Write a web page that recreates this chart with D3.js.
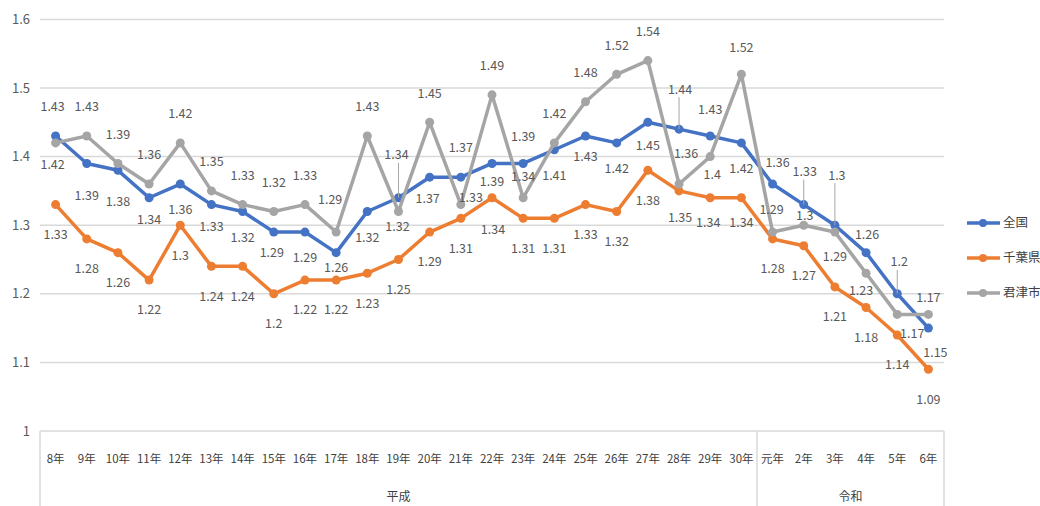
<!DOCTYPE html>
<html>
<head>
<meta charset="utf-8">
<script src="https://cdn.jsdelivr.net/npm/d3@7"></script>
<style>
  body { margin: 0; background: #fff; }
  svg text { font-family: "Noto Sans CJK JP", "Noto Sans", sans-serif; }
</style>
</head>
<body>
<div id="chart"></div>
<script>
// data
var heiseiYears = ["8年","9年","10年","11年","12年","13年","14年","15年","16年","17年","18年","19年",
  "20年","21年","22年","23年","24年","25年","26年","27年","28年","29年","30年"];
var reiwaYears = ["元年","2年","3年","4年","5年","6年"];
var eras = ["平成", "令和"];
var categories = heiseiYears.map(function(y){ return "平成" + y; })
  .concat(reiwaYears.map(function(y){ return "令和" + y; }));

var zenkoku = [1.43,1.39,1.38,1.34,1.36,1.33,1.32,1.29,1.29,1.26,1.32,1.34,1.37,1.37,1.39,1.39,1.41,1.43,1.42,1.45,1.44,1.43,1.42,
  1.36,1.33,1.30,1.26,1.20,1.15];
var chiba = [1.33,1.28,1.26,1.22,1.30,1.24,1.24,1.20,1.22,1.22,1.23,1.25,1.29,1.31,1.34,1.31,1.31,1.33,1.32,1.38,1.35,1.34,1.34,
  1.28,1.27,1.21,1.18,1.14,1.09];
var kimitsu = [1.42,1.43,1.39,1.36,1.42,1.35,1.33,1.32,1.33,1.29,1.43,1.32,1.45,1.33,1.49,1.34,1.42,1.48,1.52,1.54,1.36,1.40,1.52,
  1.29,1.30,1.29,1.23,1.17,1.17];
var yTicks = [1, 1.1, 1.2, 1.3, 1.4, 1.5, 1.6];

var series = [
  {name: "全国", values: zenkoku, color: "#4472c4", dy: 26},
  {name: "千葉県", values: chiba, color: "#ed7d31", dy: 30},
  {name: "君津市", values: kimitsu, color: "#a5a5a5", dy: -29}
];

// label nudges (index: [dx, dy, leader])
var nudge = {
  "全国": {0:[-3,-29],1:[0,32],2:[0,31],3:[0,22],5:[0,22],7:[-2,21],9:[0,15],11:[-2,-43,1],12:[-2,21],13:[0,-30],
    14:[0,18],15:[0,-27],17:[0,21],19:[0,23],20:[1,-40,1],21:[0,-26],23:[5,-21],24:[1,-33,1],25:[2,-50,1],
    26:[1,-18],27:[2,-32,1],28:[7,25]},
  "千葉県": {14:[1,32],20:[1,27],21:[-2,25],22:[0,25]},
  "君津市": {0:[-3,22],9:[-6,-32],11:[-1,15],13:[10,-7],15:[0,-21],20:[7,-30],21:[2,18],22:[0,-27],23:[-1,-22],
    24:[1,-10],25:[0,25],26:[-5,17],27:[15,19],28:[0,-17]}
};

var W = 1040, H = 506;
var plotLeft = 40, plotRight = 944, plotTop = 19.4, plotBottom = 431;

var svg = d3.select("#chart").append("svg")
  .attr("width", W).attr("height", H);

var x = d3.scaleBand().domain(categories).range([plotLeft, plotRight]).padding(0);
var bw = x.bandwidth();
function cx(i){ return x(categories[i]) + bw / 2; }

var y = d3.scaleLinear().domain([1, 1.6]).range([plotBottom, plotTop]);

// gridlines
svg.append("g").selectAll("line").data(yTicks).join("line")
  .attr("x1", plotLeft).attr("x2", plotRight)
  .attr("y1", function(d){ return y(d); }).attr("y2", function(d){ return y(d); })
  .attr("stroke", "#d9d9d9").attr("stroke-width", 1.5);

// y axis
var yAxis = svg.append("g")
  .attr("transform", "translate(" + plotLeft + ",0)")
  .call(d3.axisLeft(y).tickValues(yTicks).tickSize(0).tickPadding(10).tickFormat(function(d){ return String(d); }));
yAxis.select(".domain").remove();
yAxis.selectAll("text").attr("font-size", 13).attr("fill", "#595959");

// x axis
var xAxis = svg.append("g")
  .attr("transform", "translate(0," + plotBottom + ")")
  .call(d3.axisBottom(x).tickSize(0).tickPadding(24).tickFormat(function(d){ return d.replace(/^(平成|令和)/, ""); }));
xAxis.select(".domain").remove();
xAxis.selectAll("text").attr("font-size", 11.5).attr("fill", "#404040");

// group separators + era labels
var sepX = [plotLeft, x(categories[heiseiYears.length]), plotRight];
svg.append("g").selectAll("line").data(sepX).join("line")
  .attr("x1", function(d){ return d; }).attr("x2", function(d){ return d; })
  .attr("y1", plotBottom).attr("y2", H)
  .attr("stroke", "#d9d9d9").attr("stroke-width", 1.5);

svg.append("g").selectAll("text").data(eras).join("text")
  .attr("x", function(d, i){ return (sepX[i] + sepX[i + 1]) / 2; })
  .attr("y", 501)
  .attr("text-anchor", "middle")
  .attr("font-size", 12).attr("fill", "#404040")
  .text(function(d){ return d; });

var line = d3.line()
  .x(function(d, i){ return cx(i); })
  .y(function(d){ return y(d); });

// lines and markers
series.forEach(function(s){
  var g = svg.append("g");
  g.append("path").datum(s.values)
    .attr("d", line).attr("fill", "none")
    .attr("stroke", s.color).attr("stroke-width", 3.5)
    .attr("stroke-linejoin", "round");
  g.selectAll("circle").data(s.values).join("circle")
    .attr("cx", function(d, i){ return cx(i); })
    .attr("cy", function(d){ return y(d); })
    .attr("r", 4.5).attr("fill", s.color);
});

// data labels
series.forEach(function(s){
  var g = svg.append("g");
  s.values.forEach(function(v, i){
    var n = nudge[s.name][i] || [0, s.dy];
    var px = cx(i), py = y(v);
    var lx = px + n[0], ly = py + n[1];
    if(n[2]){
      g.append("line")
        .attr("x1", px).attr("x2", px)
        .attr("y1", ly + 8).attr("y2", py)
        .attr("stroke", "#a6a6a6").attr("stroke-width", 1);
    }
    g.append("text")
      .attr("x", lx).attr("y", ly)
      .attr("dy", "0.35em")
      .attr("text-anchor", "middle")
      .attr("font-size", 12.5).attr("fill", "#595959")
      .text(String(v));
  });
});

// legend
var legend = svg.append("g").attr("transform", "translate(967,223)");
series.forEach(function(s, i){
  var lg = legend.append("g").attr("transform", "translate(0," + (i * 35) + ")");
  lg.append("line").attr("x1", 0).attr("x2", 33).attr("y1", 0).attr("y2", 0)
    .attr("stroke", s.color).attr("stroke-width", 3.5);
  lg.append("circle").attr("cx", 16).attr("cy", 0).attr("r", 4).attr("fill", s.color);
  lg.append("text").attr("x", 36).attr("y", 0).attr("dy", "0.35em")
    .attr("font-size", 12.5).attr("fill", "#404040").text(s.name);
});
</script>
</body>
</html>
